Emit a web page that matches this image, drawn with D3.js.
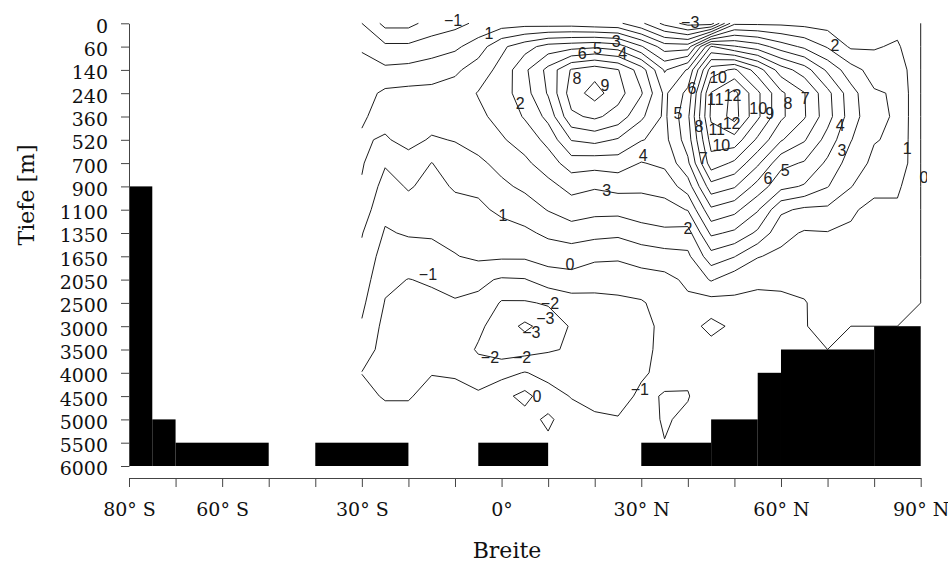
<!DOCTYPE html>
<html>
<head>
<meta charset="utf-8">
<script src="https://cdn.jsdelivr.net/npm/d3@7"></script>
<style>
  html, body { margin: 0; padding: 0; background: #fff; }
  svg { display: block; }
</style>
</head>
<body>
<svg id="chart" width="948" height="563"></svg>
<script>
// Grid latitudes (degrees, negative = south) of the streamfunction field
const latitudes = [-30, -25, -20, -15, -10, -5, 0, 5, 10, 15, 20, 25, 30, 35, 40, 45, 50, 55, 60, 65, 70, 75, 80, 85, 90];

// Model depth levels [m]
const depthLabels = ["0", "60", "140", "240", "360", "520", "700", "900", "1100", "1350",
                     "1650", "2050", "2500", "3000", "3500", "4000", "4500", "5000", "5500", "6000"];

// Meridional overturning streamfunction [Sv]; one row per latitude, one value per depth level
const psi = [
  [ 0.0, 0.9, 1.3, 1.6, 1.9, 2.1, 2.1, 1.9, 1.5, 1.05, 0.8, 0.5, 0.2, -0.1, -0.6, -1.02, -0.7, -0.4, -0.2, 0],
  [-1.3, 0.2, 1.2, 2.2, 2.3, 1.9, 1.1, 0.6, 0.25, -0.1, -0.5, -0.8, -1.05, -1.3, -1.3, -1.3, -1.1, -0.6, -0.3, 0],
  [-1.3, 0.2, 1.3, 2.3, 2.6, 2.3, 1.6, 1.1, 0.6, 0.1, -0.5, -1.02, -1.3, -1.5, -1.6, -1.5, -1.1, -0.6, -0.3, 0],
  [-0.6, 0.5, 1.5, 2.3, 2.4, 1.9, 0.98, 0.7, 0.4, 0.1, -0.3, -0.9, -1.2, -1.4, -1.3, -1.05, -0.6, -0.3, -0.15, -0.05],
  [-0.3, 0.8, 1.8, 2.5, 2.4, 2.05, 1.5, 1.1, 0.7, 0.3, -0.05, -0.6, -1.1, -1.5, -1.5, -1.1, -0.7, -0.4, -0.2, -0.1],
  [ 0.2, 1.5, 2.5, 3.05, 2.8, 2.4, 1.8, 1.2, 0.8, 0.5, 0.2, -0.8, -1.2, -1.8, -2.1, -1.6, -0.8, -0.4, -0.2, 0],
  [ 0.5, 2.8, 3.3, 3.5, 3.3, 2.9, 2.3, 1.8, 1.2, 0.6, 0.15, -1.1, -2.1, -2.5, -2.5, -1.3, -0.3, -0.5, -0.3, 0],
  [ 0.6, 3.6, 4.8, 4.6, 4.1, 3.4, 2.8, 2.2, 1.5, 0.8, 0.15, -1.05, -2.1, -3.2, -2.4, -0.95, 0.3, -0.4, -0.3, 0],
  [ 0.5, 4.4, 6.3, 6.1, 5.3, 4.3, 3.5, 2.7, 2.05, 1.2, 0.4, -0.5, -1.9, -2.6, -2.1, -1.3, -0.6, 0.2, -0.2, 0],
  [ 0.5, 4.6, 8.1, 8.5, 7.8, 6.05, 4.5, 3.3, 2.5, 1.5, 0.4, -0.3, -1.5, -1.9, -1.9, -1.6, -1.05, -0.6, -0.3, -0.1],
  [ 0.3, 4.8, 8.6, 9.4, 8.2, 6.3, 4.4, 3.1, 2.3, 1.3, 0.2, -0.6, -1.3, -1.5, -1.5, -1.5, -1.3, -0.85, -0.5, -0.2],
  [ 0.2, 4.5, 8.05, 8.4, 7.6, 5.9, 4.5, 3.3, 2.3, 1.2, 0.15, -0.6, -1.2, -1.3, -1.4, -1.5, -1.3, -0.95, -0.5, -0.2],
  [-0.8, 3.1, 6.5, 7.1, 6.2, 5.05, 3.95, 3.2, 2.5, 1.6, 0.4, -0.4, -1.1, -1.25, -1.3, -1.1, -0.85, -0.6, -0.3, 0],
  [-2.3, 1.5, 3.9, 4.8, 4.8, 4.7, 4.2, 3.4, 2.6, 1.8, 0.6, -0.3, -0.6, -0.8, -0.7, -0.8, -1.05, -1.1, -0.98, 0],
  [-3.4, 1.5, 5.1, 6.3, 6.8, 6.5, 5.8, 4.5, 3.05, 1.6, 0.8, 0.2, -0.2, -0.6, -0.6, -0.8, -1.06, -0.8, -0.4, 0],
  [-3.5, 6.1, 9.5, 11.05, 11.2, 10.4, 9.6, 7.6, 5.8, 4.2, 2.6, 1.1, -0.4, -1.3, -0.6, -0.4, -0.3, -0.2, 0, 0],
  [ 0.8, 5.1, 10.2, 12.3, 12.4, 10.6, 8.8, 7.1, 5.3, 3.8, 2.05, 0.4, -0.2, -0.8, -0.8, -0.5, -0.3, -0.1, 0, 0],
  [ 0.8, 4.5, 8.5, 10.2, 10.2, 8.8, 7.2, 5.6, 4.1, 2.8, 1.05, 0.3, -0.4, -0.5, -0.4, -0.2, 0, 0, 0, 0],
  [ 0.8, 3.5, 6.5, 8.2, 8.2, 7.1, 5.3, 4.3, 2.2, 1.3, 0.8, 0.3, -0.3, -0.3, -0.2, 0, 0, 0, 0, 0],
  [ 0.7, 2.8, 5.5, 7.05, 7.1, 6.1, 4.9, 3.9, 1.8, 0.9, 0.6, 0.25, -0.05, -0.05, -0.02, 0, 0, 0, 0, 0],
  [ 0.6, 1.9, 3.8, 5.3, 5.4, 4.6, 3.8, 3.05, 1.8, 0.95, 0.8, 0.7, 0.35, 0.3, 0, 0, 0, 0, 0, 0],
  [ 0.5, 0.85, 2.4, 3.4, 3.5, 3.05, 2.5, 2.05, 1.1, 0.9, 0.8, 0.5, 0.25, 0, 0, 0, 0, 0, 0, 0],
  [ 0.5, 0.9, 1.6, 2.1, 2.2, 2.05, 1.8, 1.2, 0.8, 0.7, 0.5, 0.3, 0.15, 0, 0, 0, 0, 0, 0, 0],
  [ 0.6, 1.15, 1.7, 1.9, 1.9, 1.85, 1.8, 1.2, 0.8, 0.7, 0.5, 0.3, 0.15, 0, 0, 0, 0, 0, 0, 0],
  [ 0, 0, 0, 0, 0, 0, 0, 0, 0, 0, 0, 0, 0, 0, 0, 0, 0, 0, 0, 0]
];

// Contour levels [Sv]
const thresholds = [-3, -2, -1, 0, 1, 2, 3, 4, 5, 6, 7, 8, 9, 10, 11, 12];

// Sea floor: [southern edge, northern edge, shallowest depth level]
const seafloor = [
  [-80, -75, "900"], [-75, -70, "5000"], [-70, -50, "5500"], [-40, -20, "5500"],
  [-5, 10, "5500"], [30, 45, "5500"], [45, 55, "5000"], [55, 60, "4000"],
  [60, 80, "3500"], [80, 90, "3000"]
];

// Contour labels: [value, latitude, depth level index]
const contourLabels = [
  [-1, -10.4, -0.15], [1, -2.7, 0.42], [-3, 40.5, -0.06], [2, 71.6, 0.93],
  [6, 17.3, 1.3], [5, 20.6, 1.06], [3, 24.6, 0.78], [4, 26.0, 1.3],
  [8, 16.2, 2.35], [9, 22.2, 2.65], [2, 4.0, 3.42], [4, 30.4, 5.65], [3, 22.6, 7.15],
  [5, 37.9, 3.85], [6, 40.9, 2.77], [10, 46.5, 2.3], [11, 45.9, 3.25], [12, 49.6, 3.1],
  [10, 55.1, 3.63], [9, 57.6, 3.85], [8, 61.5, 3.42], [7, 65.2, 3.2],
  [8, 42.4, 4.4], [11, 46.2, 4.55], [12, 49.4, 4.3], [10, 47.2, 5.22], [7, 43.3, 5.78],
  [4, 72.7, 4.36], [3, 73.1, 5.43], [6, 57.2, 6.63], [5, 60.9, 6.29], [1, 87.1, 5.35],
  [0, 90.7, 6.6], [1, 0.3, 8.22], [2, 40.0, 8.78], [0, 14.7, 10.32], [-1, -15.8, 10.79],
  [-2, 10.4, 12.0], [-3, 9.4, 12.65], [-3, 6.4, 13.25], [-2, -2.5, 14.35], [-2, 4.4, 14.35],
  [0, 7.6, 16.0], [-1, 29.7, 15.72]
];

// Latitude axis
const latTicks = [-80, -70, -60, -50, -40, -30, -20, -10, 0, 10, 20, 30, 40, 50, 60, 70, 80, 90];
const latTickLabels = { "-80": "80° S", "-60": "60° S", "-30": "30° S", "0": "0°",
                        "30": "30° N", "60": "60° N", "90": "90° N" };

const svg = d3.select("#chart");
const x = d3.scaleLinear().domain([-80, 90]).range([129, 920.7]);
const y = d3.scaleLinear().domain([0, depthLabels.length - 1]).range([23.3, 466]);

const levelIndex = d => depthLabels.indexOf(d);

// Points below the sea floor carry zero transport
function isLand(lat, j) {
  return seafloor.some(([a, b, top]) => lat >= a && lat <= b && j > levelIndex(top));
}
const grid = latitudes.map((lat, i) => depthLabels.map((_, j) => isLand(lat, j) ? 0 : psi[i][j]));

// Marching squares on the latitude x level grid
function contourSegments(t) {
  const segs = [];
  const inside = v => v > t;
  for (let i = 0; i < latitudes.length - 1; i++) {
    for (let j = 0; j < depthLabels.length - 1; j++) {
      const c = [
        { p: [latitudes[i], j], v: grid[i][j] },
        { p: [latitudes[i + 1], j], v: grid[i + 1][j] },
        { p: [latitudes[i + 1], j + 1], v: grid[i + 1][j + 1] },
        { p: [latitudes[i], j + 1], v: grid[i][j + 1] }
      ];
      const cross = [];
      for (let e = 0; e < 4; e++) {
        const A = c[e], B = c[(e + 1) % 4];
        if (inside(A.v) !== inside(B.v)) {
          const f = (t - A.v) / (B.v - A.v);
          cross[e] = [A.p[0] + f * (B.p[0] - A.p[0]), A.p[1] + f * (B.p[1] - A.p[1])];
        }
      }
      const edges = [0, 1, 2, 3].filter(e => cross[e]);
      if (edges.length === 2) {
        segs.push([cross[edges[0]], cross[edges[1]]]);
      } else if (edges.length === 4) {
        const centre = (c[0].v + c[1].v + c[2].v + c[3].v) / 4;
        if (inside(centre) === inside(c[0].v)) {
          segs.push([cross[0], cross[1]], [cross[2], cross[3]]);
        } else {
          segs.push([cross[3], cross[0]], [cross[1], cross[2]]);
        }
      }
    }
  }
  return segs;
}

const line = d3.line().x(p => x(p[0])).y(p => y(p[1]));

svg.append("g").attr("class", "contours")
  .selectAll("path")
  .data(thresholds)
  .join("path")
  .attr("d", t => contourSegments(t).map(s => line(s)).join(""))
  .attr("fill", "none")
  .attr("stroke", "#1e1e1e")
  .attr("stroke-width", 1);

// Contour labels
svg.append("clipPath").attr("id", "labelClip")
  .append("rect").attr("x", 0).attr("y", 0).attr("width", 927).attr("height", 563);

svg.append("g").attr("class", "contour-labels")
  .attr("clip-path", "url(#labelClip)")
  .selectAll("text")
  .data(contourLabels)
  .join("text")
  .attr("x", d => x(d[1]))
  .attr("y", d => y(d[2]))
  .attr("dy", "0.36em")
  .attr("text-anchor", "middle")
  .attr("font-family", "'Liberation Sans', Arial, sans-serif")
  .attr("font-size", 16)
  .attr("fill", "#222")
  .text(d => d[0] < 0 ? "\u2212" + Math.abs(d[0]) : String(d[0]));

// Sea floor
svg.append("g").attr("class", "seafloor")
  .selectAll("rect")
  .data(seafloor)
  .join("rect")
  .attr("x", d => x(d[0]))
  .attr("width", d => x(d[1]) - x(d[0]))
  .attr("y", d => y(levelIndex(d[2])))
  .attr("height", d => y(depthLabels.length - 1) - y(levelIndex(d[2])))
  .attr("fill", "#000");

// Depth axis
const yAxis = svg.append("g")
  .attr("transform", "translate(129,0)")
  .call(d3.axisLeft(y)
    .tickValues(d3.range(depthLabels.length))
    .tickFormat(i => depthLabels[i])
    .tickSize(8)
    .tickSizeOuter(0));
yAxis.select(".domain").attr("stroke", "#444");
yAxis.selectAll(".tick line").attr("stroke", "#444");
yAxis.selectAll(".tick text")
  .attr("x", -21)
  .attr("dy", "0.47em")
  .attr("font-family", "'DejaVu Serif', serif")
  .attr("font-size", 19)
  .attr("fill", "#111");

// Latitude axis
const xAxis = svg.append("g")
  .attr("transform", "translate(0,478)")
  .call(d3.axisBottom(x)
    .tickValues(latTicks)
    .tickFormat(d => latTickLabels[String(d)] || "")
    .tickSize(9)
    .tickSizeOuter(0));
xAxis.select(".domain").attr("stroke", "#444");
xAxis.selectAll(".tick line").attr("stroke", "#444");
xAxis.selectAll(".tick text")
  .attr("y", 25)
  .attr("dy", "0.71em")
  .attr("font-family", "'DejaVu Serif', serif")
  .attr("font-size", 19)
  .attr("fill", "#111");

// Axis titles
svg.append("text")
  .attr("transform", "translate(34,195) rotate(-90)")
  .attr("text-anchor", "middle")
  .attr("font-family", "'DejaVu Serif', serif")
  .attr("font-size", 22)
  .attr("fill", "#111")
  .text("Tiefe [m]");

svg.append("text")
  .attr("x", 507)
  .attr("y", 558)
  .attr("text-anchor", "middle")
  .attr("font-family", "'DejaVu Serif', serif")
  .attr("font-size", 22)
  .attr("fill", "#111")
  .text("Breite");
</script>
</body>
</html>
